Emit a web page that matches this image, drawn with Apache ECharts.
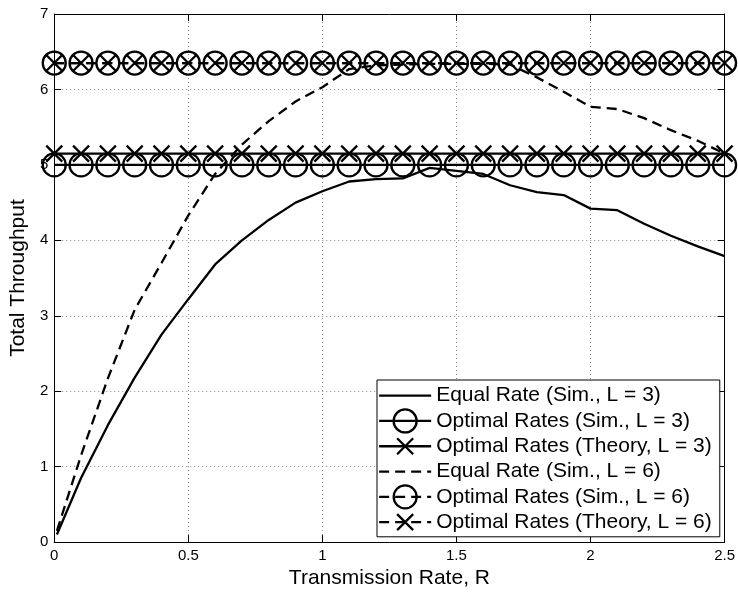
<!DOCTYPE html>
<html>
<head>
<meta charset="utf-8">
<script src="https://cdn.jsdelivr.net/npm/echarts@6/dist/echarts.min.js"></script>
<style>
html,body{margin:0;padding:0;background:#fff;}
#chart{width:738px;height:594px;}
</style>
</head>
<body>
<div id="chart"></div>
<script>
// ---- data ----
const xTicks = [0, 0.5, 1, 1.5, 2, 2.5];
const yTicks = [0, 1, 2, 3, 4, 5, 6, 7];
const rEqual = [0.01, 0.1, 0.2, 0.3, 0.4, 0.5, 0.6, 0.7, 0.8, 0.9, 1.0, 1.1, 1.2, 1.3, 1.4, 1.5, 1.6, 1.7, 1.8, 1.9, 2.0, 2.1, 2.2, 2.3, 2.4, 2.5];
const rGrid = [0, 0.1, 0.2, 0.3, 0.4, 0.5, 0.6, 0.7, 0.8, 0.9, 1.0, 1.1, 1.2, 1.3, 1.4, 1.5, 1.6, 1.7, 1.8, 1.9, 2.0, 2.1, 2.2, 2.3, 2.4, 2.5];
const equalL3 = [0.1, 0.85, 1.55, 2.18, 2.75, 3.22, 3.68, 4.0, 4.27, 4.5, 4.65, 4.78, 4.81, 4.82, 4.96, 4.92, 4.88, 4.73, 4.64, 4.6, 4.42, 4.4, 4.22, 4.06, 3.92, 3.79];
const equalL6 = [0.15, 1.15, 2.17, 3.08, 3.7, 4.33, 4.88, 5.27, 5.58, 5.84, 6.03, 6.27, 6.32, 6.33, 6.34, 6.34, 6.34, 6.33, 6.16, 5.97, 5.77, 5.74, 5.62, 5.46, 5.32, 5.15];
const optSimL3 = [5.0, 5.0, 5.0, 5.0, 5.0, 5.0, 5.0, 5.0, 5.0, 5.0, 5.0, 5.0, 5.0, 5.0, 5.0, 5.0, 5.0, 5.0, 5.0, 5.0, 5.0, 5.0, 5.0, 5.0, 5.0, 5.0];
const optTheoryL3 = [5.15, 5.15, 5.15, 5.15, 5.15, 5.15, 5.15, 5.15, 5.15, 5.15, 5.15, 5.15, 5.15, 5.15, 5.15, 5.15, 5.15, 5.15, 5.15, 5.15, 5.15, 5.15, 5.15, 5.15, 5.15, 5.15];
const optSimL6 = [6.35, 6.35, 6.35, 6.35, 6.35, 6.35, 6.35, 6.35, 6.35, 6.35, 6.35, 6.35, 6.35, 6.35, 6.35, 6.35, 6.35, 6.35, 6.35, 6.35, 6.35, 6.35, 6.35, 6.35, 6.35, 6.35];
const optTheoryL6 = [6.35, 6.35, 6.35, 6.35, 6.35, 6.35, 6.35, 6.35, 6.35, 6.35, 6.35, 6.35, 6.35, 6.35, 6.35, 6.35, 6.35, 6.35, 6.35, 6.35, 6.35, 6.35, 6.35, 6.35, 6.35, 6.35];
const seriesNames = [
  'Equal Rate (Sim., L = 3)',
  'Optimal Rates (Sim., L = 3)',
  'Optimal Rates (Theory, L = 3)',
  'Equal Rate (Sim., L = 6)',
  'Optimal Rates (Sim., L = 6)',
  'Optimal Rates (Theory, L = 6)'
];

// ---- chart ----
const FONT = "'Liberation Sans', Arial, Helvetica, sans-serif";
const zip = (xs, ys) => xs.map((x, i) => [x, ys[i]]);
const XSYM = 'path://M0,0M23,23M3.5,3.5L19.5,19.5M19.5,3.5L3.5,19.5';
const DASH = [10, 6];
const LW = 2.3;

function mkSeries(name, xs, ys, symbol, dashed) {
  const hasSym = !!symbol;
  return {
    name: name,
    type: 'line',
    data: zip(xs, ys),
    symbol: symbol || 'circle',
    symbolSize: 23,
    showSymbol: hasSym,
    clip: false,
    animation: false,
    silent: true,
    lineStyle: { color: '#000', width: LW, type: dashed ? DASH : 'solid' },
    itemStyle: hasSym
      ? { color: 'transparent', borderColor: '#000', borderWidth: LW }
      : { color: 'transparent', borderColor: 'transparent', borderWidth: 0 },
    emphasis: { disabled: true }
  };
}

const chart = echarts.init(document.getElementById('chart'), null, { renderer: 'canvas' });
const axisCommon = {
  axisLine: { show: true, onZero: false, lineStyle: { color: '#000', width: 1 } },
  axisTick: { show: true, inside: true, length: 7, lineStyle: { color: '#000' } }
};
chart.setOption({
  backgroundColor: '#fff',
  animation: false,
  textStyle: { fontFamily: FONT },
  grid: { left: 53, right: 11, top: 14, bottom: 48, containLabel: false },
  xAxis: [
    Object.assign({
      type: 'value', min: xTicks[0], max: xTicks[xTicks.length - 1], interval: 0.5, position: 'bottom',
      name: 'Transmission Rate, R', nameLocation: 'middle', nameGap: 21,
      nameTextStyle: { fontSize: 21, color: '#000', fontFamily: FONT },
      axisLabel: { fontSize: 15, color: '#000', margin: 6, fontFamily: FONT, formatter: v => String(v) },
      splitLine: { show: true, lineStyle: { color: '#8a8a8a', width: 1, type: [1, 3] } }
    }, axisCommon),
    Object.assign({
      type: 'value', min: xTicks[0], max: xTicks[xTicks.length - 1], interval: 0.5, position: 'top',
      axisLabel: { show: false }, splitLine: { show: false }
    }, axisCommon)
  ],
  yAxis: [
    Object.assign({
      type: 'value', min: yTicks[0], max: yTicks[yTicks.length - 1], interval: 1, position: 'left',
      name: 'Total Throughput', nameLocation: 'middle', nameGap: 16,
      nameTextStyle: { fontSize: 21, color: '#000', fontFamily: FONT },
      axisLabel: { fontSize: 15, color: '#000', margin: 6, fontFamily: FONT },
      splitLine: { show: true, lineStyle: { color: '#8a8a8a', width: 1, type: [1, 3] } }
    }, axisCommon),
    Object.assign({
      type: 'value', min: yTicks[0], max: yTicks[yTicks.length - 1], interval: 1, position: 'right',
      axisLabel: { show: false }, splitLine: { show: false }
    }, axisCommon)
  ],
  legend: {
    orient: 'vertical',
    left: 377,
    top: 380,
    itemWidth: 52,
    itemHeight: 28.75,
    itemGap: 0,
    padding: [3, 8, 2, 1],
    backgroundColor: '#fff',
    borderColor: '#000',
    borderWidth: 1,
    borderRadius: 0,
    selectedMode: false,
    textStyle: { fontSize: 21, color: '#000', fontFamily: FONT },
    itemStyle: { borderWidth: LW },
    lineStyle: { width: LW },
    data: seriesNames
  },
  series: [
    mkSeries(seriesNames[0], rEqual, equalL3, null, false),
    mkSeries(seriesNames[1], rGrid, optSimL3, 'circle', false),
    mkSeries(seriesNames[2], rGrid, optTheoryL3, XSYM, false),
    mkSeries(seriesNames[3], rEqual, equalL6, null, true),
    mkSeries(seriesNames[4], rGrid, optSimL6, 'circle', true),
    mkSeries(seriesNames[5], rGrid, optTheoryL6, XSYM, true)
  ]
});
</script>
</body>
</html>
